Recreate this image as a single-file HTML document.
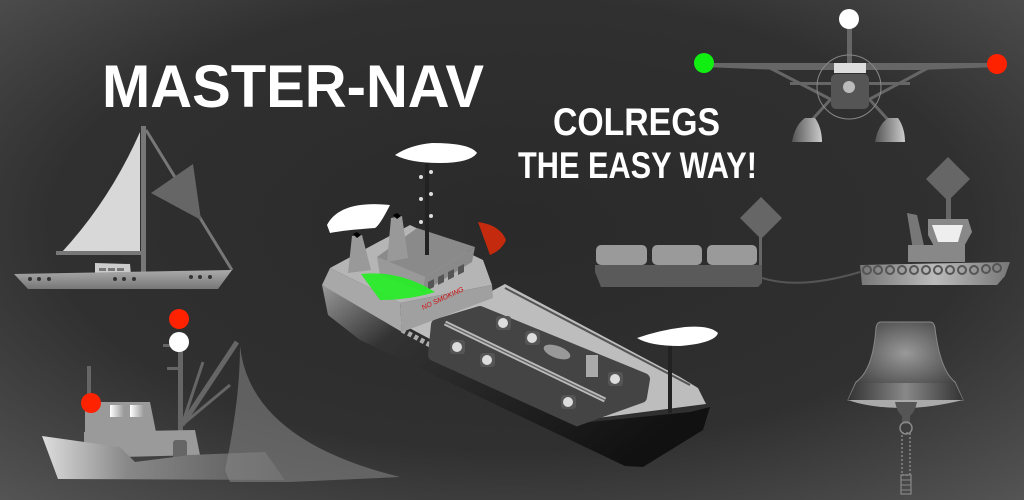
<!DOCTYPE html>
<html><head><meta charset="utf-8"><style>
html,body{margin:0;padding:0;width:1024px;height:500px;overflow:hidden;background:#333}
svg{display:block}
</style></head><body>
<svg width="1024" height="500" viewBox="0 0 1024 500" xmlns="http://www.w3.org/2000/svg">
<defs>
<radialGradient id="bg" cx="50%" cy="45%" r="75%">
<stop offset="0" stop-color="#2a2a2a"/><stop offset="0.6" stop-color="#303030"/><stop offset="1" stop-color="#555"/></radialGradient>
<linearGradient id="hullg" x1="0" y1="0" x2="1" y2="0"><stop offset="0" stop-color="#ddd"/><stop offset="0.35" stop-color="#888"/><stop offset="1" stop-color="#555"/></linearGradient>
<linearGradient id="sailhull" x1="0" y1="0" x2="0" y2="1"><stop offset="0" stop-color="#aaa"/><stop offset="1" stop-color="#777"/></linearGradient>
<linearGradient id="tk" x1="0" y1="0" x2="1" y2="0.6"><stop offset="0" stop-color="#999"/><stop offset="0.25" stop-color="#333"/><stop offset="1" stop-color="#111"/></linearGradient>
<linearGradient id="flt" x1="0" y1="0" x2="1" y2="0"><stop offset="0" stop-color="#555"/><stop offset="1" stop-color="#ccc"/></linearGradient>
<linearGradient id="tug" x1="0" y1="0" x2="1" y2="0"><stop offset="0" stop-color="#777"/><stop offset="0.5" stop-color="#bbb"/><stop offset="1" stop-color="#777"/></linearGradient>
<radialGradient id="bell" cx="50%" cy="40%" r="55%"><stop offset="0" stop-color="#999"/><stop offset="1" stop-color="#444"/></radialGradient>
<linearGradient id="band" x1="0" y1="0" x2="1" y2="0"><stop offset="0" stop-color="#333"/><stop offset="0.5" stop-color="#888"/><stop offset="1" stop-color="#333"/></linearGradient>
<linearGradient id="win" x1="0" y1="0" x2="1" y2="0"><stop offset="0" stop-color="#fff"/><stop offset="1" stop-color="#999"/></linearGradient>
</defs>
<rect width="1024" height="500" fill="url(#bg)"/>

<g font-family="'Liberation Sans',sans-serif" fill="#fff" font-weight="bold">
<text x="102" y="107" font-size="60" textLength="382" lengthAdjust="spacingAndGlyphs">MASTER-NAV</text>
<text x="553" y="135" font-size="39" textLength="167" lengthAdjust="spacingAndGlyphs">COLREGS</text>
<text x="518" y="178" font-size="37" textLength="239" lengthAdjust="spacingAndGlyphs">THE EASY WAY!</text>
</g>

<!-- sailboat -->
<g>
<path d="M140,132 Q110,200 62,252 L140,252 Z" fill="#d8d8d8"/>
<rect x="141" y="126" width="5" height="150" fill="#777"/>
<line x1="146" y1="130" x2="232" y2="270" stroke="#777" stroke-width="3"/>
<path d="M151,193 L193,164 L201,220 Z" fill="#666"/>
<rect x="56" y="251" width="87" height="4" fill="#777"/>
<path d="M95,263 L130,264 L131,275 L95,275 Z" fill="#ccc"/>
<rect x="99" y="268" width="7" height="3" fill="#777"/><rect x="108" y="268" width="7" height="3" fill="#777"/><rect x="117" y="268" width="7" height="3" fill="#777"/>
<path d="M14,274 L232,270 L218,289 L28,289 Z" fill="url(#sailhull)"/>
<g fill="#333"><circle cx="30" cy="279" r="2"/><circle cx="39" cy="279" r="2"/><circle cx="49" cy="279" r="2"/><circle cx="115" cy="279" r="2"/><circle cx="124" cy="279" r="2"/><circle cx="134" cy="279" r="2"/><circle cx="191" cy="277" r="2"/><circle cx="200" cy="277" r="2"/><circle cx="210" cy="277" r="2"/></g>
</g>

<!-- fishing boat -->
<g>
<rect x="87" y="366" width="4" height="40" fill="#666"/>
<rect x="178" y="350" width="5" height="82" fill="#666"/>
<rect x="163" y="344" width="16" height="3" fill="#666"/><rect x="167" y="367" width="14" height="3" fill="#666"/>
<line x1="182" y1="425" x2="237" y2="342" stroke="#666" stroke-width="5"/>
<line x1="182" y1="425" x2="203" y2="362" stroke="#666" stroke-width="3"/>
<line x1="182" y1="425" x2="230" y2="385" stroke="#666" stroke-width="3"/>
<path d="M85,402 L150,402 L156,432 L85,432 Z" fill="#9a9a9a"/>
<rect x="110" y="405" width="14" height="12" fill="url(#win)"/><rect x="130" y="405" width="14" height="12" fill="url(#win)"/>
<path d="M84,432 L195,430 L200,455 L84,458 Z" fill="#9a9a9a"/>
<rect x="173" y="440" width="14" height="25" rx="3" fill="#666"/>
<path d="M42,436 L120,447 L135,462 L190,455 L265,452 L285,480 L58,479 Z" fill="url(#hullg)"/>
<path d="M240,346 Q250,440 400,477 L290,482 L230,482 L225,470 Q240,400 240,346 Z" fill="#888" opacity="0.55"/>
<circle cx="179" cy="319" r="10" fill="#ff2200"/>
<circle cx="179" cy="342" r="10" fill="#fff"/>
<circle cx="91" cy="403" r="10" fill="#ff2200"/>
</g>

<!-- tanker -->
<g>
<path d="M322,285 L400,327 L580,423 L690,412 L710,407 L703,430 L643,467 L625,466 L360,340 L328,315 Z" fill="url(#tk)"/>
<path d="M398,322 L582,420 L706,404 L698,388 L680,377 L505,284 L490,292 Z" fill="#bdbdbd"/>
<line x1="505" y1="288" x2="690" y2="385" stroke="#555" stroke-width="2"/>
<line x1="402" y1="330" x2="580" y2="425" stroke="#fff" stroke-width="5" stroke-dasharray="4 3" opacity="0.6"/>
<path d="M437,325 L434,355 L577,420 L641,397 L644,379 L480,312 Z" fill="#444" stroke="#444" stroke-width="12" stroke-linejoin="round"/>
<g fill="#555"><rect x="496" y="316" width="15" height="14" rx="3"/><rect x="525" y="331" width="15" height="14" rx="3"/><rect x="450" y="340" width="15" height="14" rx="3"/><rect x="480" y="353" width="15" height="14" rx="3"/><rect x="608" y="372" width="15" height="14" rx="3"/><rect x="561" y="395" width="15" height="14" rx="3"/></g>
<g fill="#ddd"><circle cx="503" cy="323" r="5"/><circle cx="532" cy="338" r="5"/><circle cx="457" cy="347" r="5"/><circle cx="487" cy="360" r="5"/><circle cx="615" cy="379" r="5"/><circle cx="568" cy="402" r="5"/></g>
<line x1="445" y1="323" x2="605" y2="400" stroke="#bbb" stroke-width="5"/>
<line x1="445" y1="323" x2="605" y2="400" stroke="#666" stroke-width="1.5"/>
<ellipse cx="557" cy="352" rx="14" ry="6" fill="#999" transform="rotate(20 557 352)"/>
<rect x="586" y="355" width="12" height="22" fill="#aaa"/>
<!-- superstructure -->
<path d="M322,285 L330,268 L400,303 L402,332 Z" fill="#a8a8a8"/>
<path d="M330,268 L400,303 L492,285 L483,260 L410,225 Z" fill="#b5b5b5"/>
<path d="M400,303 L492,285 L493,298 L402,332 Z" fill="#a0a0a0"/>
<path d="M377,257 L417,228 L475,247 L425,277 Z" fill="#8a8a8a"/>
<path d="M377,257 L425,277 L423,292 L380,275 Z" fill="#999"/>
<path d="M425,277 L475,247 L472,262 L423,292 Z" fill="#8a8a8a"/>
<path d="M428,282 L434,279 L434,287 L428,290 Z M438,277 L444,274 L444,282 L438,285 Z M448,272 L454,269 L454,277 L448,280 Z M458,267 L464,264 L464,272 L458,275 Z" fill="#555"/>
<path d="M352,236 L362,235 L371,270 L348,273 Z" fill="#999"/>
<path d="M391,218 L402,216 L408,258 L387,262 Z" fill="#999"/>
<path d="M353,234 L357,232 L361,235 L357,238 Z" fill="#000"/>
<path d="M393,215 L397,213 L401,216 L397,219 Z" fill="#000"/>
<path d="M327,225 Q340,200 390,205 Q380,225 375,228 Q345,230 330,233 Z" fill="#fff"/>
<path d="M478,222 Q500,225 506,240 Q502,250 490,255 Z" fill="#c42a0d"/>
<path d="M361,274 Q400,270 435,292 Q410,300 380,300 Z" fill="#22ee22" opacity="0.9"/>
<rect x="425" y="145" width="4" height="110" fill="#222"/>
<path d="M395,155 Q410,145 432,143 Q470,143 477,153 Q470,163 440,163 Q410,163 395,155 Z" fill="#fff"/>
<g fill="#ddd"><circle cx="421" cy="177" r="2"/><circle cx="431" cy="172" r="2"/><circle cx="421" cy="199" r="2"/><circle cx="431" cy="194" r="2"/><circle cx="421" cy="222" r="2"/><circle cx="431" cy="216" r="2"/></g>
<text x="0" y="0" font-family="'Liberation Sans',sans-serif" font-size="7" fill="#d01010" font-style="italic" transform="translate(423,310) rotate(-25)">NO SMOKING</text>
<rect x="668" y="335" width="4" height="78" fill="#222"/>
<path d="M637,338 Q660,330 685,327 Q710,325 718,333 Q715,343 680,346 Q650,346 637,338 Z" fill="#fff"/>
</g>

<!-- seaplane -->
<g>
<rect x="847" y="20" width="5" height="50" fill="#666"/>
<path d="M704,63 L997,63 L997,67 L920,70 L780,70 L704,67 Z" fill="#666"/>
<line x1="770" y1="68" x2="832" y2="100" stroke="#666" stroke-width="3"/>
<line x1="928" y1="68" x2="868" y2="100" stroke="#666" stroke-width="3"/>
<rect x="790" y="82" width="120" height="3" fill="#666"/>
<line x1="830" y1="100" x2="810" y2="122" stroke="#666" stroke-width="3"/>
<line x1="870" y1="100" x2="890" y2="122" stroke="#666" stroke-width="3"/>
<rect x="831" y="74" width="38" height="35" rx="5" fill="#555"/>
<rect x="834" y="63" width="32" height="10" fill="#ddd"/>
<circle cx="849" cy="87" r="6" fill="#bbb"/>
<circle cx="849" cy="87" r="32" fill="none" stroke="#888" stroke-width="1"/>
<path d="M792,142 Q795,125 805,118 L815,118 Q822,128 822,142 Z" fill="url(#flt)"/>
<path d="M875,142 Q878,125 888,118 L898,118 Q905,128 905,142 Z" fill="url(#flt)"/>
<circle cx="849" cy="19" r="10" fill="#fff"/>
<circle cx="704" cy="63" r="10" fill="#11ee11"/>
<circle cx="997" cy="64" r="10" fill="#ff2200"/>
</g>

<!-- barge + tug -->
<g>
<path d="M761,197 L782,218 L761,239 L740,218 Z" fill="#666"/>
<rect x="759" y="232" width="3" height="50" fill="#666"/>
<rect x="596" y="245" width="51" height="20" rx="5" fill="#9a9a9a"/>
<rect x="652" y="245" width="50" height="20" rx="5" fill="#9a9a9a"/>
<rect x="707" y="245" width="50" height="20" rx="5" fill="#9a9a9a"/>
<path d="M595,265 L762,265 L762,283 L758,287 L601,287 L595,272 Z" fill="#5a5a5a"/>
<path d="M762,278 Q800,290 860,272" stroke="#555" stroke-width="2" fill="none"/>
<path d="M948,157 L970,179 L948,201 L926,179 Z" fill="#666"/>
<rect x="946" y="195" width="5" height="25" fill="#666"/>
<path d="M928,219 L968,219 L972,232 L962,250 L936,250 L928,235 Z" fill="#888"/>
<path d="M932,225 L963,225 L958,242 L938,242 Z" fill="#eee"/>
<path d="M907,213 L917,215 L925,250 L913,250 Z" fill="#777"/>
<rect x="908" y="245" width="57" height="17" fill="#888"/>
<path d="M860,265 L1010,262 L1005,276 L997,285 L862,285 Z" fill="url(#tug)"/>
<g fill="none" stroke="#555" stroke-width="2">
<circle cx="867" cy="270" r="4"/><circle cx="878" cy="270" r="4"/><circle cx="890" cy="270" r="4"/><circle cx="902" cy="270" r="4"/><circle cx="914" cy="270" r="4"/><circle cx="926" cy="270" r="4"/><circle cx="938" cy="270" r="4"/><circle cx="950" cy="270" r="4"/><circle cx="962" cy="270" r="4"/><circle cx="974" cy="270" r="4"/><circle cx="986" cy="269" r="4"/><circle cx="997" cy="268" r="4"/></g>
</g>

<!-- bell -->
<g>
<path d="M881,322 L930,322 Q934,322 935,328 Q940,370 955,382 L963,400 L848,400 L856,382 Q873,370 876,328 Q877,322 881,322 Z" fill="url(#bell)" stroke="#888" stroke-width="1"/>
<path d="M856,383 L955,383 L963,400 L848,400 Z" fill="url(#band)"/>
<path d="M848,400 L963,400 Q930,408 905,408 Q870,408 848,400 Z" fill="#aaa"/>
<path d="M895,402 L917,402 Q915,412 910,416 L910,424 L902,424 L902,416 Q897,412 895,402 Z" fill="#555"/>
<circle cx="906" cy="428" r="6" fill="none" stroke="#888" stroke-width="1.5"/>
<rect x="902" y="433" width="8" height="42" fill="none" stroke="#888" stroke-width="1.5" stroke-dasharray="2 2"/>
<rect x="901" y="475" width="10" height="19" fill="none" stroke="#888" stroke-width="1.2"/>
<line x1="901" y1="480" x2="911" y2="480" stroke="#888"/><line x1="901" y1="485" x2="911" y2="485" stroke="#888"/><line x1="901" y1="490" x2="911" y2="490" stroke="#888"/>
</g>
</svg>
</body></html>
